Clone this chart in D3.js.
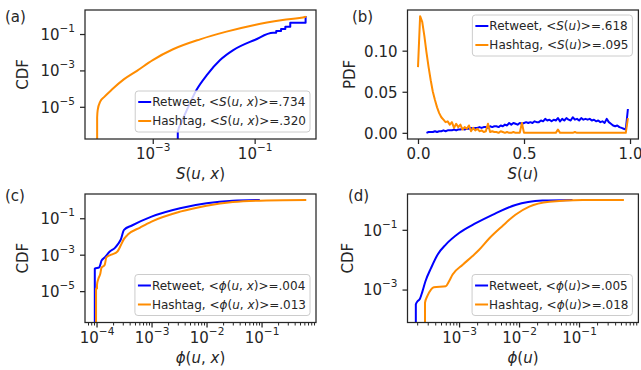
<!DOCTYPE html>
<html>
<head>
<meta charset="utf-8">
<script src="https://cdn.jsdelivr.net/npm/d3@7"></script>
<style>
  body { margin: 0; background: #fff; }
  text { font-family: "DejaVu Sans"; fill: #262626; }
</style>
</head>
<body>
<svg id="chart" width="641" height="370"></svg>
<script>
// Series names and legend means
const seriesNames = ["Retweet", "Hashtag"];
const meansA = [".734", ".320"];
const meansB = [".618", ".095"];
const meansC = [".004", ".013"];
const meansD = [".005", ".018"];

// (a) CDF of S(u, x): [S, CDF]
const retweetA = [
  [3.1e-3, 1e-7], [3.1e-3, 4.2e-7], [3.7e-3, 1.5e-6], [5.0e-3, 1e-5], [7.2e-3, 8.3e-5],
  [1.15e-2, 5.5e-4], [2.1e-2, 3.7e-3], [3.8e-2, 1.3e-2], [0.1, 4.7e-2], [0.23, 0.117],
  [0.265, 0.117], [0.265, 0.147], [0.33, 0.147], [0.33, 0.19], [0.40, 0.19], [0.40, 0.25],
  [0.50, 0.25], [0.50, 0.42], [1.0, 0.42], [1.0, 0.97]
];
const hashtagA = [
  [8.1e-5, 1e-7], [8.1e-5, 2.6e-6], [8.3e-5, 6.6e-6], [9.3e-5, 1.9e-5], [1.12e-4, 3.5e-5],
  [1.58e-4, 8.9e-5], [2.7e-4, 3.2e-4], [4.9e-4, 9.5e-4], [1e-3, 3.7e-3], [2.5e-3, 1.45e-2],
  [8.5e-3, 5.1e-2], [2.8e-2, 0.135], [0.1, 0.316], [0.355, 0.59], [1.0, 0.89], [1.0, 0.97]
];

// (b) PDF of S(u), bins 0.00 .. 0.99
const pdfBins = d3.range(100).map(i => i / 100);
const retweetB = [
  null, null, null, null,
  0.000, 0.001, 0.001, 0.001, 0.002, 0.001, 0.002, 0.002, 0.003, 0.002, 0.003, 0.003,
  0.003, 0.004, 0.003, 0.004, 0.004, 0.005, 0.004, 0.005, 0.005, 0.006, 0.005, 0.006,
  0.006, 0.007, 0.006, 0.007, 0.007, 0.006, 0.008, 0.007, 0.008, 0.008, 0.007, 0.009,
  0.008, 0.010, 0.009, 0.012, 0.010, 0.012, 0.011, 0.010, 0.012, 0.011, 0.012, 0.013,
  0.012, 0.013, 0.012, 0.014, 0.013, 0.013, 0.015, 0.014, 0.017, 0.015, 0.016, 0.014,
  0.016, 0.015, 0.018, 0.014, 0.017, 0.015, 0.018, 0.016, 0.015, 0.019, 0.016, 0.017,
  0.015, 0.018, 0.016, 0.017, 0.016, 0.017, 0.015, 0.016, 0.014, 0.015, 0.013, 0.014,
  0.012, 0.017, 0.013, 0.011, 0.009, 0.008, 0.009, 0.007, 0.006, 0.005, 0.004, 0.029
];
const hashtagB = [
  0.080, 0.142, 0.135, 0.118, 0.098, 0.080, 0.064, 0.050, 0.040, 0.031, 0.024, 0.019,
  0.016, 0.013, 0.014, 0.010, 0.013, 0.006, 0.011, 0.007, 0.010, 0.004, 0.007, 0.005,
  0.009, 0.002, 0.006, 0.003, 0.005, 0.002, 0.003, 0.001, 0.002, 0.011, 0.001, 0.002,
  0.001, 0.001, 0.000, 0.002, 0.001, 0.000, 0.001, 0.000, 0.000, 0.001, 0.000, 0.000,
  0.000, 0.012, 0.000, 0.000, 0.000, 0.000, 0.000, 0.000, 0.000, 0.000, 0.000, 0.000,
  0.000, 0.000, 0.000, 0.000, 0.000, 0.000, 0.004, 0.000, 0.000, 0.000, 0.000, 0.000,
  0.000, 0.000, 0.001, 0.000, 0.000, 0.000, 0.000, 0.000, 0.000, 0.000, 0.000, 0.000,
  0.000, 0.000, 0.000, 0.000, 0.000, 0.000, 0.000, 0.000, 0.000, 0.000, 0.000, 0.000,
  0.000, 0.000, 0.000, 0.018
];

// (c) CDF of phi(u, x)
const retweetC = [
  [9.3e-5, 1e-7], [9.3e-5, 1.7e-4], [1.12e-4, 2.0e-4], [1.17e-4, 2.8e-4], [1.23e-4, 4.7e-4],
  [1.41e-4, 7.1e-4], [1.74e-4, 1.5e-3], [2.14e-4, 2.3e-3], [2.45e-4, 3.8e-3], [2.75e-4, 6.6e-3],
  [3.16e-4, 2.3e-2], [4.4e-4, 4.0e-2], [1e-3, 0.123], [3.3e-3, 0.355], [1e-2, 0.66],
  [3.0e-2, 0.91], [9.3e-2, 1.0]
];
const hashtagC = [
  [9.8e-5, 1e-7], [9.8e-5, 1.4e-5], [1.02e-4, 1.4e-5], [1.02e-4, 2.3e-5], [1.07e-4, 4.4e-5],
  [1.17e-4, 8.9e-5], [1.23e-4, 1.9e-4], [1.41e-4, 2.8e-4], [1.51e-4, 7.1e-4], [1.86e-4, 1.0e-3],
  [2.4e-4, 1.5e-3], [2.75e-4, 3.2e-3], [3.16e-4, 7.4e-3], [3.8e-4, 1.35e-2], [6.2e-4, 3.1e-2],
  [1e-3, 6.6e-2], [3.3e-3, 0.23], [1e-2, 0.49], [3.0e-2, 0.78], [0.123, 0.95], [0.65, 1.0]
];

// (d) CDF of phi(u)
const retweetD = [
  [1.9e-4, 5e-5], [1.9e-4, 3.2e-4], [2.04e-4, 4.1e-4], [2.2e-4, 4.7e-4], [2.45e-4, 8.7e-4],
  [2.75e-4, 1.9e-3], [3.4e-4, 5.2e-3], [4.4e-4, 1.5e-2], [6.0e-4, 3.2e-2], [1e-3, 7.8e-2],
  [1.9e-3, 0.166], [3.6e-3, 0.316], [8.7e-3, 0.68], [2.45e-2, 0.95], [7.8e-2, 1.0]
];
const hashtagD = [
  [2.7e-4, 5e-5], [2.7e-4, 3.6e-4], [2.95e-4, 6.0e-4], [3.4e-4, 1.0e-3], [3.8e-4, 1.2e-3],
  [6.0e-4, 1.3e-3], [6.8e-4, 1.9e-3], [7.8e-4, 3.2e-3], [1.15e-3, 6.8e-3], [1.66e-3, 1.3e-2],
  [2.14e-3, 2.1e-2], [3.2e-3, 5.2e-2], [5.2e-3, 0.13], [8.7e-3, 0.32], [1.48e-2, 0.6],
  [3.2e-2, 0.87], [0.115, 1.0], [0.56, 1.0]
];

// Tick values
const ticksAx = [1e-3, 1e-1];
const ticksAy = [1e-1, 1e-3, 1e-5];
const ticksBx = [0, 0.5, 1.0];
const ticksBy = [0, 0.05, 0.10];
const ticksCx = [1e-4, 1e-3, 1e-2, 1e-1];
const ticksCy = [1e-1, 1e-3, 1e-5];
const ticksDx = [1e-3, 1e-2, 1e-1];
const ticksDy = [1e-1, 1e-3];

// Mathtext-like labels: [text, italic]
const mSux = [["S", 1], ["(", 0], ["u", 1], [", ", 0], ["x", 1], [")", 0]];
const mSu = [["S", 1], ["(", 0], ["u", 1], [")", 0]];
const mPux = [["ϕ", 1], ["(", 0], ["u", 1], [", ", 0], ["x", 1], [")", 0]];
const mPu = [["ϕ", 1], ["(", 0], ["u", 1], [")", 0]];

const colors = ["#0000ff", "#ff8c00"];
const ink = "#262626";
const svg = d3.select("#chart");

function richText(sel, parts) {
  parts.forEach(([t, it]) => {
    const ts = sel.append("tspan").text(t);
    if (it) ts.attr("font-style", "italic");
  });
  return sel;
}

function sup(sel, d) {
  const e = Math.round(Math.log10(d));
  sel.text("");
  sel.append("tspan").text("10");
  sel.append("tspan").attr("font-size", 10.5).attr("dy", -8).text((e < 0 ? "\u2212" : "") + Math.abs(e));
}

function styleAxis(g) {
  g.attr("font-family", null).attr("font-size", 15).style("color", ink);
  g.select(".domain").remove();
  g.selectAll(".tick line").attr("stroke-width", 1.25);
}

function drawPanel(p) {
  const g = svg.append("g");
  const x = (p.xLog ? d3.scaleLog() : d3.scaleLinear()).domain(p.xDomain).range([p.left, p.right]);
  const y = (p.yLog ? d3.scaleLog() : d3.scaleLinear()).domain(p.yDomain).range([p.bottom, p.top]);

  const clipId = "clip-" + p.name;
  svg.append("clipPath").attr("id", clipId).append("rect")
    .attr("x", p.left).attr("y", p.top)
    .attr("width", p.right - p.left).attr("height", p.bottom - p.top);

  // CDFs are smoothed between read-off points, the PDF stays piecewise linear
  const line = d3.line()
    .defined(d => d[1] != null)
    .curve(p.yLog ? d3.curveMonotoneX : d3.curveLinear)
    .x(d => x(d[0]))
    .y(d => y(d[1]));

  p.series.forEach((s, i) => {
    g.append("path")
      .attr("clip-path", `url(#${clipId})`)
      .attr("d", line(s))
      .attr("fill", "none")
      .attr("stroke", colors[i])
      .attr("stroke-width", 2)
      .attr("stroke-linejoin", "round");
  });

  // minor ticks on log x axes
  if (p.xMinor) {
    const minor = x.ticks().filter(v => Math.abs(Math.log10(v) - Math.round(Math.log10(v))) > 1e-6);
    const gm = g.append("g").attr("transform", `translate(0,${p.bottom})`)
      .call(d3.axisBottom(x).tickValues(minor).tickSize(3).tickFormat(""));
    styleAxis(gm);
    gm.selectAll(".tick line").attr("stroke-width", 1);
  }

  const gx = g.append("g").attr("transform", `translate(0,${p.bottom})`)
    .call(d3.axisBottom(x).tickValues(p.xTicks).tickSize(5));
  styleAxis(gx);
  gx.selectAll(".tick text").attr("y", 20).attr("dy", null).each(function (d) {
    const t = d3.select(this);
    if (p.xLog) sup(t, d); else t.text(d3.format(".1f")(d));
  });

  const gy = g.append("g").attr("transform", `translate(${p.left},0)`)
    .call(d3.axisLeft(y).tickValues(p.yTicks).tickSize(5));
  styleAxis(gy);
  gy.selectAll(".tick text").attr("x", -10).attr("dy", null).attr("y", 5.4).each(function (d) {
    const t = d3.select(this);
    if (p.yLog) sup(t, d); else t.text(d3.format(".2f")(d));
  });

  // frame
  g.append("rect")
    .attr("x", p.left).attr("y", p.top)
    .attr("width", p.right - p.left).attr("height", p.bottom - p.top)
    .attr("fill", "none").attr("stroke", ink).attr("stroke-width", 1.25);

  // labels
  richText(g.append("text")
    .attr("x", (p.left + p.right) / 2).attr("y", p.bottom + 40)
    .attr("text-anchor", "middle").attr("font-size", 15), p.xLabel);

  g.append("text")
    .attr("transform", `translate(${p.yLabelX},${(p.top + p.bottom) / 2}) rotate(-90)`)
    .attr("text-anchor", "middle").attr("dy", "0.36em").attr("font-size", 15)
    .text(p.yLabel);

  g.append("text").attr("x", p.tagX).attr("y", p.tagY).attr("font-size", 15).text(p.tag);

  // legend
  const lg = g.append("g");
  const box = lg.append("rect")
    .attr("rx", 3).attr("fill", "white").attr("fill-opacity", 0.8)
    .attr("stroke", "#cccccc").attr("stroke-width", 1);
  let maxW = 0;
  seriesNames.forEach((name, i) => {
    const ry = 11 + i * 19;
    lg.append("line")
      .attr("x1", 3).attr("x2", 16).attr("y1", ry).attr("y2", ry)
      .attr("stroke", colors[i]).attr("stroke-width", 2);
    const t = richText(lg.append("text")
      .attr("x", 17).attr("y", ry).attr("dy", "0.36em").attr("font-size", 12),
      [[name + ", <", 0], ...p.mathName, [">=" + p.means[i], 0]]);
    maxW = Math.max(maxW, t.node().getComputedTextLength());
  });
  const bw = 17 + maxW + 4, bh = 41;
  box.attr("width", bw).attr("height", bh);
  const lx = p.right - 6 - bw;
  const ly = p.legendTop ? p.top + 5 : p.bottom - 7 - bh;
  lg.attr("transform", `translate(${lx},${ly})`);
}

drawPanel({
  name: "a", tag: "(a)", tagX: 5, tagY: 22,
  left: 85, right: 316, top: 10, bottom: 139,
  xLog: true, yLog: true, xMinor: false,
  xDomain: [4.68e-5, 1.6], yDomain: [1.7e-7, 2.09],
  xTicks: ticksAx, yTicks: ticksAy,
  series: [retweetA, hashtagA],
  xLabel: mSux, yLabel: "CDF", yLabelX: 23,
  mathName: mSux, means: meansA, legendTop: false
});

drawPanel({
  name: "b", tag: "(b)", tagX: 352, tagY: 22,
  left: 407.5, right: 638.4, top: 10, bottom: 139,
  xLog: false, yLog: false, xMinor: false,
  xDomain: [-0.0495, 1.0395], yDomain: [-0.0075, 0.1495],
  xTicks: ticksBx, yTicks: ticksBy,
  series: [pdfBins.map((v, i) => [v, retweetB[i]]), pdfBins.map((v, i) => [v, hashtagB[i]])],
  xLabel: mSu, yLabel: "PDF", yLabelX: 350,
  mathName: mSu, means: meansB, legendTop: true
});

drawPanel({
  name: "c", tag: "(c)", tagX: 5, tagY: 201,
  left: 85, right: 316, top: 194, bottom: 322.5,
  xLog: true, yLog: true, xMinor: true,
  xDomain: [6.17e-5, 0.977], yDomain: [1.9e-7, 2.14],
  xTicks: ticksCx, yTicks: ticksCy,
  series: [retweetC, hashtagC],
  xLabel: mPux, yLabel: "CDF", yLabelX: 23,
  mathName: mPux, means: meansC, legendTop: false
});

drawPanel({
  name: "d", tag: "(d)", tagX: 348, tagY: 201,
  left: 407.5, right: 638.4, top: 194, bottom: 322.5,
  xLog: true, yLog: true, xMinor: true,
  xDomain: [1.38e-4, 0.977], yDomain: [7.9e-5, 1.58],
  xTicks: ticksDx, yTicks: ticksDy,
  series: [retweetD, hashtagD],
  xLabel: mPu, yLabel: "CDF", yLabelX: 348,
  mathName: mPu, means: meansD, legendTop: false
});
</script>
</body>
</html>
